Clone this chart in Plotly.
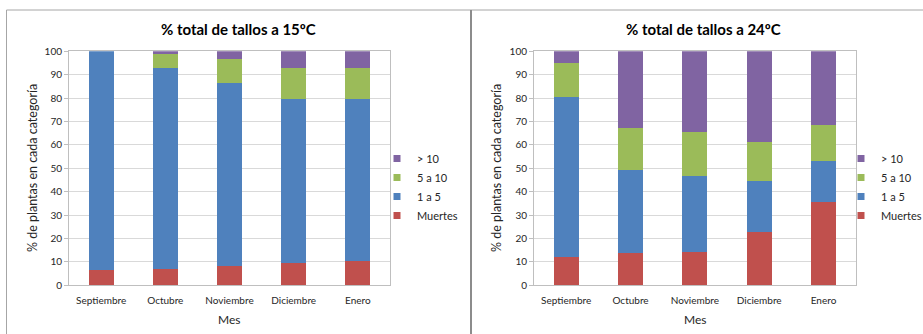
import plotly.graph_objects as go

W, H = 923, 334

months = ["Septiembre", "Octubre", "Noviembre", "Diciembre", "Enero"]
series_names = ["Muertes", "1 a 5", "5 a 10", "> 10"]
colors = ["#C0504D", "#4F81BD", "#9BBB59", "#8064A2"]

# 15ºC
muertes_15 = [6.5, 7.0, 8.3, 9.4, 10.5]
uno_cinco_15 = [93.5, 86.0, 78.3, 70.1, 69.0]
cinco_diez_15 = [0.0, 6.0, 10.1, 13.4, 13.4]
mas_diez_15 = [0.0, 1.0, 3.3, 7.1, 7.1]

# 24ºC
muertes_24 = [12.0, 14.0, 14.4, 22.6, 35.8]
uno_cinco_24 = [68.3, 35.1, 32.3, 21.8, 17.3]
cinco_diez_24 = [14.6, 18.0, 18.8, 17.0, 15.3]
mas_diez_24 = [5.1, 32.9, 34.5, 38.6, 31.6]

titles = ["% total de tallos a 15ºC", "% total de tallos a 24ºC"]
y_title = "% de plantas en cada categoría"
x_title = "Mes"
y_ticks = list(range(0, 101, 10))

FONT = "Lato"
TXT = "#262626"

def px(x):
    return x / W

def py(y):
    return 1 - y / H

fig = go.Figure()

data15 = [muertes_15, uno_cinco_15, cinco_diez_15, mas_diez_15]
data24 = [muertes_24, uno_cinco_24, cinco_diez_24, mas_diez_24]

for (xa, ya, lg, dataset) in [("x", "y", "legend", data15), ("x2", "y2", "legend2", data24)]:
    for name, col, vals in zip(series_names, colors, dataset):
        fig.add_trace(go.Bar(x=months, y=vals, name=name, marker=dict(color=col, line=dict(width=0)),
                             xaxis=xa, yaxis=ya, showlegend=False))
    # legend entries with small square swatches
    for name, col in zip(series_names, colors):
        fig.add_trace(go.Scatter(x=[None], y=[None], mode="markers", name=name,
                                 marker=dict(symbol="square", size=7, color=col),
                                 xaxis=xa, yaxis=ya, legend=lg, showlegend=True))

ydom = [py(285.3), py(51.3)]
axis_common_x = dict(showline=True, linecolor="#BFBFBF", mirror=True, ticks="outside", ticklen=6,
                     tickcolor="rgba(0,0,0,0)", automargin=False,
                     tickfont=dict(family=FONT, size=10, color=TXT), showgrid=False)
axis_common_y = dict(range=[0, 100], tickvals=y_ticks, showline=True, linecolor="#BFBFBF", mirror=True,
                     ticks="outside", ticklen=4, tickcolor="#BFBFBF", automargin=False,
                     gridcolor="#D9D9D9", gridwidth=1,
                     tickfont=dict(family=FONT, size=10, color=TXT), zeroline=False)

legend_common = dict(xref="container", yref="container", xanchor="left", yanchor="top",
                     traceorder="reversed", font=dict(family=FONT, size=11, color=TXT),
                     bgcolor="rgba(0,0,0,0)", itemwidth=30, tracegroupgap=0, borderwidth=0)

fig.update_layout(
    width=W, height=H,
    margin=dict(l=0, r=0, t=0, b=0, autoexpand=False),
    paper_bgcolor="white", plot_bgcolor="white",
    barmode="stack", bargap=0.61,
    showlegend=True,
    xaxis=dict(domain=[px(69), px(390)], anchor="y", **axis_common_x),
    yaxis=dict(domain=ydom, anchor="x", **axis_common_y),
    xaxis2=dict(domain=[px(534), px(855.7)], anchor="y2", **axis_common_x),
    yaxis2=dict(domain=ydom, anchor="x2", **axis_common_y),
    legend=dict(x=px(377), y=py(144), **legend_common),
    legend2=dict(x=px(841), y=py(144), **legend_common),
)

annotations = []
for cx, t in zip([238.6, 703], titles):
    annotations.append(dict(text=t, x=px(cx), y=py(29), xref="paper", yref="paper", showarrow=False,
                            xanchor="center", yanchor="middle",
                            font=dict(family=FONT, size=15, color="#000000", weight="bold")))
for cx in [229.5, 695]:
    annotations.append(dict(text=x_title, x=px(cx), y=py(319), xref="paper", yref="paper", showarrow=False,
                            xanchor="center", yanchor="middle",
                            font=dict(family=FONT, size=12, color=TXT)))
for cx in [32, 496]:
    annotations.append(dict(text=y_title, x=px(cx), y=py(168), xref="paper", yref="paper", showarrow=False,
                            xanchor="center", yanchor="middle", textangle=-90,
                            font=dict(family=FONT, size=12.5, color=TXT)))
fig.update_layout(annotations=annotations)

shapes = [
    dict(type="line", xref="paper", yref="paper", x0=px(6.5), x1=px(923), y0=py(10), y1=py(10),
         line=dict(color="#A6A6A6", width=1)),
    dict(type="line", xref="paper", yref="paper", x0=px(6.5), x1=px(6.5), y0=py(10), y1=py(340),
         line=dict(color="#A6A6A6", width=1)),
    dict(type="line", xref="paper", yref="paper", x0=px(471), x1=px(471), y0=py(10), y1=py(340),
         line=dict(color="#8C8C8C", width=2)),
]
fig.update_layout(shapes=shapes)

fig.write_html("out.html", config={"displayModeBar": False},
               post_script="document.body.style.margin='0';document.body.style.overflow='hidden';")
